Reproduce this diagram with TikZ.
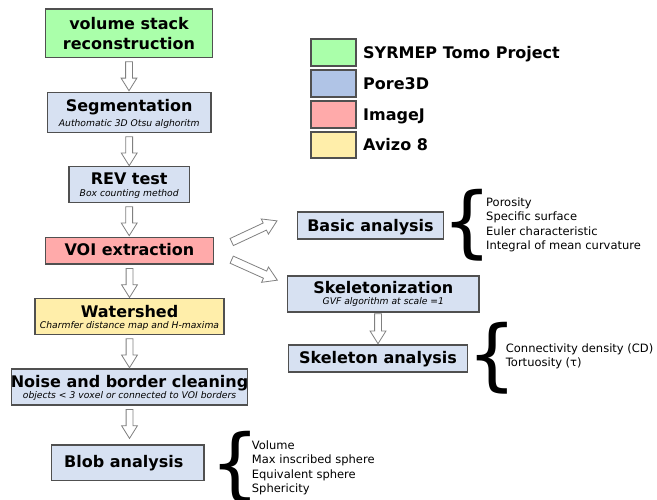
\documentclass[tikz,border=0pt]{standalone}
\usepackage{fontspec}
\setmainfont{DejaVu Sans}
\usetikzlibrary{shapes.arrows,calc}

\definecolor{symgreen}{HTML}{AAFFAA}
\definecolor{poreblue}{HTML}{D7E1F2}
\definecolor{poreleg}{HTML}{B0C4E6}
\definecolor{ijred}{HTML}{FFAAAA}
\definecolor{avyellow}{HTML}{FFEEAA}
\definecolor{edgegray}{HTML}{505050}
\definecolor{arrowgray}{HTML}{808080}

\tikzset{
  box/.style={draw=edgegray, line width=1.2pt, inner sep=0pt, outer sep=0pt},
  title/.style={font=\fontsize{16}{19}\selectfont\bfseries, inner sep=0pt, anchor=base},
  sub/.style={font=\fontsize{9.2}{11}\selectfont\itshape, inner sep=0pt, anchor=base},
  legtext/.style={font=\fontsize{16}{19}\selectfont\bfseries, inner sep=0pt, anchor=base west},
  % the base anchor of a multi-line list sits on its last line
  listtext/.style={font=\fontsize{11.5}{14.6}\selectfont, align=left, inner sep=0pt, anchor=base west},
  bracesym/.style={font=\fontsize{78}{78}\selectfont, inner sep=0pt},
  harrow/.style={single arrow, draw=arrowgray, fill=white, line width=0.8pt,
    inner sep=3pt, single arrow head extend=4.5pt, single arrow tip angle=64,
    single arrow head indent=0pt, minimum width=0pt,
    sloped, allow upside down, anchor=tail, pos=0},
}
% a tall curly brace whose box is only as wide as its ink
\newcommand{\tallbrace}{\makebox[28pt][c]{\{}}

\begin{document}
\begin{tikzpicture}[x=1pt,y=-1pt]
\useasboundingbox (0,0) rectangle (657,499);

% ---- main processing chain ----
\node[box, fill=symgreen, minimum width=166.7, minimum height=48.3] (vsr) at (129,33.2) {};
\node[title] (vsrA) at ($(vsr.center)+(0,-3.9)$) {volume stack};
\node[title] (vsrB) at ($(vsr.center)+(0,16.1)$) {reconstruction};

\node[box, fill=poreblue, minimum width=163.7, minimum height=40] (seg) at (129.2,112.3) {};
\node[title] (segA) at ($(seg.center)+(0,-1.3)$) {Segmentation};
\node[sub] (segB) at ($(seg.center)+(0,13.7)$) {Authomatic 3D Otsu alghoritm};

\node[box, fill=poreblue, minimum width=120.3, minimum height=35.6] (rev) at (129.2,184.5) {};
\node[title] (revA) at ($(rev.center)+(0,0)$) {REV test};
\node[sub] (revB) at ($(rev.center)+(0,12.2)$) {Box counting method};

\node[box, fill=ijred, minimum width=167.7, minimum height=26.7] (voi) at (129.5,250.7) {};
\node[title] (voiA) at ($(voi.center)+(0,5)$) {VOI extraction};

\node[box, fill=avyellow, minimum width=189, minimum height=36] (wat) at (129.5,316.3) {};
\node[title] (watA) at ($(wat.center)+(0,1.3)$) {Watershed};
\node[sub] (watB) at ($(wat.center)+(0,12)$) {Charmfer distance map and H-maxima};

\node[box, fill=poreblue, minimum width=235.7, minimum height=36] (noise) at (129.5,387) {};
\node[title] (noiseA) at ($(noise.center)+(0,0.3)$) {Noise and border cleaning};
\node[sub] (noiseB) at ($(noise.center)+(0,11.7)$) {objects < 3 voxel or connected to VOI borders};

\node[box, fill=poreblue, minimum width=152.3, minimum height=35.7] (blob) at (127.8,462.8) {};
\node[title] (blobA) at ($(blob.center)+(-4,4.5)$) {Blob analysis};

% ---- analysis branch ----
\node[box, fill=poreblue, minimum width=145.6, minimum height=27] (basic) at (370.5,225.5) {};
\node[title] (basicA) at ($(basic.center)+(0,5.5)$) {Basic analysis};

\node[box, fill=poreblue, minimum width=191.3, minimum height=36] (skel) at (383.3,294) {};
\node[title] (skelA) at ($(skel.center)+(0,-0.7)$) {Skeletonization};
\node[sub] (skelB) at ($(skel.center)+(0,10.5)$) {GVF algorithm at scale =1};

\node[box, fill=poreblue, minimum width=179.3, minimum height=27] (skan) at (378,358.5) {};
\node[title] (skanA) at ($(skan.center)+(0,4.8)$) {Skeleton analysis};

% ---- hollow flow arrows ----
\path ($(vsr.south)+(0,4)$) -- node[harrow, minimum height=29] (a1) {} (vsr.south |- seg.north);
\path ($(seg.south)+(0,4)$) -- node[harrow, minimum height=29] (a2) {} (seg.south |- rev.north);
\path ($(rev.south)+(0,4)$) -- node[harrow, minimum height=29] (a3) {} (rev.south |- voi.north);
\path ($(voi.south)+(0,4)$) -- node[harrow, minimum height=29] (a4) {} (voi.south |- wat.north);
\path ($(wat.south)+(0,4)$) -- node[harrow, minimum height=29] (a5) {} (wat.south |- noise.north);
\path ($(noise.south)+(0,4)$) -- node[harrow, minimum height=29] (a6) {} (noise.south |- blob.north);
\path ($(skan.north |- skel.south)+(0,1.3)$) -- node[harrow, minimum height=30] (a7) {} (skan.north);

\coordinate (upT) at ($(voi.east)+(18,-8.5)$);
\coordinate (upH) at ($(basic.west)+(-21,-4.5)$);
\coordinate (dnT) at ($(voi.east)+(18,8.8)$);
\coordinate (dnH) at ($(skel.west)+(-10.7,-14)$);
\path (upT) -- node[harrow, inner sep=3.5pt, minimum height=50] (a8) {} (upH);
\path (dnT) -- node[harrow, inner sep=3.5pt, minimum height=50] (a9) {} (dnH);

% ---- braces and measured quantities ----
\node[bracesym] (brBasic) at (467,225) {\tallbrace};
\node[listtext] (lsBasic) at (486,249.8) {Porosity\\Specific surface\\Euler characteristic\\Integral of mean curvature};

\node[bracesym] (brSkan) at (492,358.5) {\tallbrace};
\node[listtext] (lsSkan) at (505.7,366.6) {Connectivity density (CD)\\Tortuosity (τ)};

\node[bracesym] (brBlob) at (235.5,467) {\tallbrace};
\node[listtext] (lsBlob) at (251.7,492.8) {Volume\\Max inscribed sphere\\Equivalent sphere\\Sphericity};

% ---- legend ----
\node[box, fill=symgreen, minimum width=45, minimum height=27] (lg1) at (333.5,52.5) {};
\node[legtext] (lt1) at ($(lg1.east)+(7,5.8)$) {SYRMEP Tomo Project};
\node[box, fill=poreleg, minimum width=45, minimum height=27] (lg2) at (333.5,83.5) {};
\node[legtext] (lt2) at ($(lg2.east)+(7,5.8)$) {Pore3D};
\node[box, fill=ijred, minimum width=45, minimum height=27] (lg3) at (333.5,114.5) {};
\node[legtext] (lt3) at ($(lg3.east)+(7,5.8)$) {ImageJ};
\node[box, fill=avyellow, minimum width=45, minimum height=26] (lg4) at (333.5,145) {};
\node[legtext] (lt4) at ($(lg4.east)+(7,5.8)$) {Avizo 8};
\end{tikzpicture}
\end{document}
